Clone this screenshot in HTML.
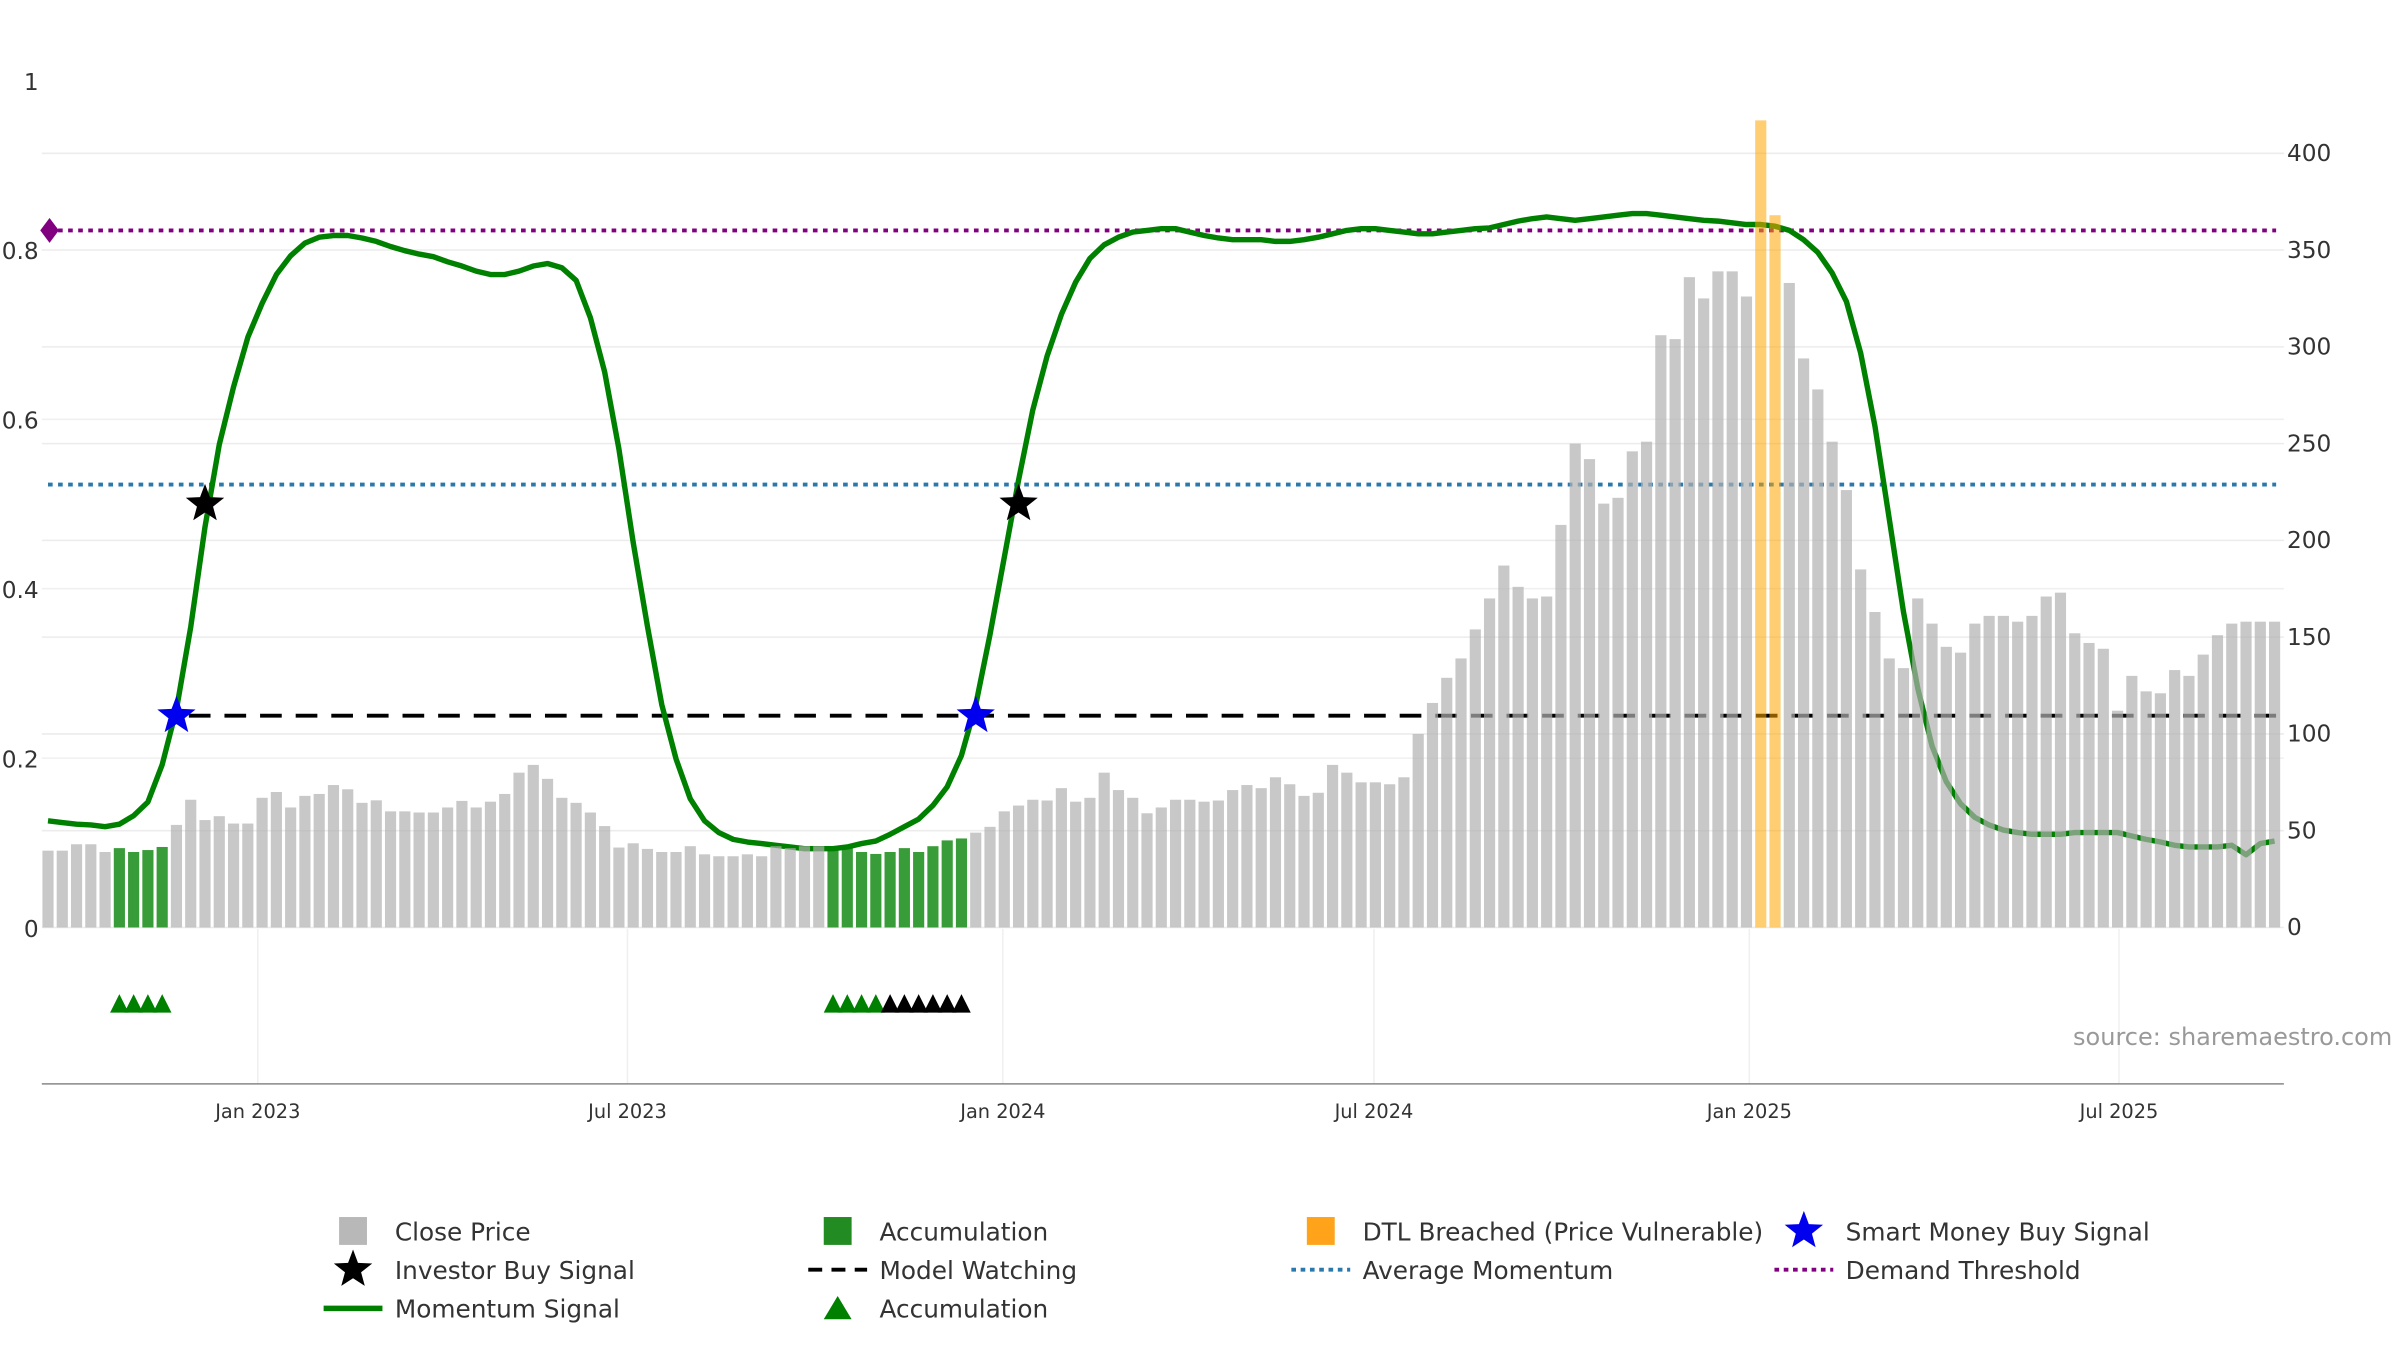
<!DOCTYPE html>
<html><head><meta charset="utf-8"><style>
html,body{margin:0;padding:0;background:#fff;}
svg{display:block;font-family:"DejaVu Sans","Liberation Sans",sans-serif;}
</style></head><body>
<svg id="chart" width="2400" height="1350" viewBox="0 0 1550 871.875" preserveAspectRatio="none" xmlns="http://www.w3.org/2000/svg">
<g id="grid"></g>
<g id="lines"></g>
<g id="bars"></g>
<g id="marks"></g>
<g id="axes"></g>
<text x="1545" y="675" text-anchor="end" font-size="15.5" fill="#999">source: sharemaestro.com</text>
<g id="legend"></g>
</svg>
<script>
const prices = [39.7,39.7,43,43,39,41,39,40,41.6,53,66,55.5,57.5,53.7,53.7,67,70,62,68,69,73.6,71.4,64.4,65.7,60,60,59.4,59.4,62,65.4,62,65,69,80,84,76.8,67,64.4,59.4,52.4,41.3,43.5,40.6,39,39,42,37.8,36.8,36.8,37.8,36.8,42,41,42,42,
41.6,41,39,38,39,41,39,42,45,46,
49,52,60,63,66,65.6,72,65,67,80,71,67,59,62,66,66,65,65.6,71,73.6,72,77.6,74,68,69.6,84,80,75,75,74,77.6,
100,116,129,139,154,170,187,176,170,171,208,250,242,219,222,246,251,306,304,336,325,339,339,326,
417,368,
333,294,278,251,226,185,163,139,134,170,157,145,142,157,161,161,158,161,171,173,152,147,144,112,130,122,121,133,130,141,151,157,158,158,158];
const momentum = [0.126,0.124,0.122,0.121,0.119,0.122,0.132,0.148,0.192,0.258,0.355,0.473,0.570,0.638,0.697,0.737,0.771,0.793,0.808,0.815,0.817,0.817,0.814,0.810,0.804,0.799,0.795,0.792,0.786,0.781,0.775,0.771,0.771,0.775,0.781,0.784,0.779,0.764,0.720,0.656,0.565,0.455,0.355,0.263,0.199,0.152,0.126,0.112,0.104,0.101,0.099,0.097,0.095,0.093,
0.093,0.093,0.095,0.099,0.102,0.110,0.119,0.128,0.144,0.166,0.203,0.263,0.346,0.437,0.528,0.611,0.675,0.724,0.762,0.790,0.806,0.815,0.821,0.823,0.825,0.825,0.821,0.817,0.814,0.812,0.812,
0.812,0.810,0.810,0.812,0.815,0.819,0.823,0.825,0.825,0.823,0.821,0.819,0.819,0.821,0.823,0.825,0.826,0.830,0.834,0.837,0.839,0.837,0.835,0.837,0.839,0.841,0.843,0.843,0.841,0.839,0.837,0.835,0.834,0.832,0.830,0.830,0.828,0.823,0.812,0.797,0.773,0.739,0.678,0.592,0.483,0.373,0.282,0.214,0.172,0.146,0.130,0.121,0.115,0.112,0.110,0.110,0.110,0.112,0.112,0.112,0.112,0.108,0.104,0.101,0.097,0.095,0.095,0.095,0.097,0.086,0.099,0.102];
const accumulationBars = [5,6,7,8,55,56,57,58,59,60,61,62,63,64];
const dtlBars = [120,121];
const greenTriangles = [5,6,7,8,55,56,57,58];
const blackTriangles = [59,60,61,62,63,64];
const smartMoneySignals = [9,65];
const investorSignals = [[11,0.5],[68,0.5]];
const demandThreshold = 0.823;
const avgMomentum = 0.523;
const modelWatching = 0.25;
const leftTicks = [0,0.2,0.4,0.6,0.8,1];
const leftTickLabels = ["0","0.2","0.4","0.6","0.8","1"];
const rightTicks = [0,50,100,150,200,250,300,350,400];
const xTickIdx = [14.7,40.6,66.9,92.9,119.2,145.1];
const xTickLabels = ["Jan 2023","Jul 2023","Jan 2024","Jul 2024","Jan 2025","Jul 2025"];

const NS="http://www.w3.org/2000/svg";
const step=(1469-31)/(prices.length-1);
const X=i=>31+i*step;
const YL=v=>599-v*547;
const YR=p=>599-p*1.25;
function mk(tag,attrs,parent){const e=document.createElementNS(NS,tag);for(const k in attrs)e.setAttribute(k,attrs[k]);parent.appendChild(e);return e;}
const grid=document.getElementById('grid'),lines=document.getElementById('lines'),bars=document.getElementById('bars'),marks=document.getElementById('marks'),axes=document.getElementById('axes'),legend=document.getElementById('legend');

rightTicks.forEach(p=>{const l=mk('line',{x1:27,x2:1475,y1:YR(p),y2:YR(p),stroke:'#ececec','stroke-width':1},grid);


const t=mk('text',{x:1477,y:YR(p)+5,'font-size':15,fill:'#333'},axes);t.textContent=p;

});
leftTicks.forEach((v,k)=>{if(v>0&&v<1){const l=mk('line',{x1:27,x2:1475,y1:YL(v),y2:YL(v),stroke:'#f0f0f0','stroke-width':1},grid);

}
const t=mk('text',{x:25,y:YL(v)+6,'font-size':15,fill:'#333','text-anchor':'end'},axes);t.textContent=leftTickLabels[k];

});
xTickIdx.forEach((ix,k)=>{const x=X(ix);const l=mk('line',{x1:x,x2:x,y1:600,y2:700,stroke:'#f0f0f0','stroke-width':1},grid);


const t=mk('text',{x:x,y:722,'font-size':12.5,fill:'#333','text-anchor':'middle'},axes);t.textContent=xTickLabels[k];

});
const ax=mk('line',{x1:27,x2:1475,y1:700,y2:700,stroke:'#888','stroke-width':1},axes);



// reference lines
let r=mk('line',{x1:31,x2:1470,y1:YL(demandThreshold),y2:YL(demandThreshold),stroke:'#800080','stroke-width':2.5,'stroke-dasharray':'3 3.5'},lines);


r=mk('line',{x1:31,x2:1470,y1:YL(avgMomentum),y2:YL(avgMomentum),stroke:'#2a78ac','stroke-width':2.5,'stroke-dasharray':'3 3.5'},lines);


r=mk('line',{x1:X(smartMoneySignals[0])+8,x2:1470,y1:YL(modelWatching),y2:YL(modelWatching),stroke:'#000','stroke-width':2.5,'stroke-dasharray':'14 9'},lines);


const pts=momentum.map((v,i)=>X(i).toFixed(1)+','+YL(v).toFixed(1)).join(' ');
r=mk('polyline',{points:pts,fill:'none',stroke:'#008000','stroke-width':3.5,'stroke-linejoin':'round'},lines);



// bars
prices.forEach((p,i)=>{let fill='#b0b0b0',op=0.7,name='close-price-bar';
if(accumulationBars.includes(i)){fill='#008000';op=0.78;name='accumulation-bar';}
if(dtlBars.includes(i)){fill='#ffa500';op=0.55;name='dtl-breached-bar';}
const b=mk('rect',{x:X(i)-3.6,y:YR(p),width:7.2,height:599-YR(p),fill:fill,'fill-opacity':op},bars);

});

function star(cx,cy,R,fill,parent){const p=[];for(let k=0;k<10;k++){const a=-Math.PI/2+k*Math.PI/5;const rr=k%2?R*0.42:R;p.push((cx+rr*Math.cos(a)).toFixed(1)+','+(cy+rr*Math.sin(a)).toFixed(1));}return mk('polygon',{points:p.join(' '),fill:fill},parent);}
smartMoneySignals.forEach(i=>{const s=star(X(i),YL(modelWatching),13,'#0000ee',marks);

});
investorSignals.forEach(([i,v])=>{const s=star(X(i),YL(v),13,'#000',marks);

});
function tri(cx,cy,fill){return mk('polygon',{points:`${cx-6},${cy+6} ${cx},${cy-6} ${cx+6},${cy+6}`,fill:fill},marks);}
greenTriangles.forEach(i=>{const t=tri(X(i),648,'#008000');

});
blackTriangles.forEach(i=>{const t=tri(X(i),648,'#000');

});
const dm=mk('polygon',{points:`${32-6},${YL(demandThreshold)} 32,${YL(demandThreshold)-8} ${32+6},${YL(demandThreshold)} 32,${YL(demandThreshold)+8}`,fill:'#800080'},marks);



// legend
const items=[
[228,795,'sq','#b8b8b8','Close Price'],[228,820,'star','#000','Investor Buy Signal'],[228,845,'line','#008000','Momentum Signal'],
[541,795,'sq','#228b22','Accumulation'],[541,820,'dash','#000','Model Watching'],[541,845,'tri','#008000','Accumulation'],
[853,795,'sq','#ffa31a','DTL Breached (Price Vulnerable)'],[853,820,'dot','#2a78ac','Average Momentum'],
[1165,795,'star','#0000ee','Smart Money Buy Signal'],[1165,820,'dot','#800080','Demand Threshold']];
items.forEach(([x,y,kind,c,label])=>{const g=mk('g',{},legend);


if(kind==='sq')mk('rect',{x:x-9,y:y-9,width:18,height:18,fill:c},g);
else if(kind==='star')star(x,y,13,c,g);
else if(kind==='line')mk('line',{x1:x-19,x2:x+19,y1:y,y2:y,stroke:c,'stroke-width':3.5},g);
else if(kind==='dash')mk('line',{x1:x-19,x2:x+19,y1:y,y2:y,stroke:c,'stroke-width':2.5,'stroke-dasharray':'9 6'},g);
else if(kind==='dot')mk('line',{x1:x-19,x2:x+19,y1:y,y2:y,stroke:c,'stroke-width':2.5,'stroke-dasharray':'3 3'},g);
else if(kind==='tri')mk('polygon',{points:`${x-9},${y+7} ${x},${y-8} ${x+9},${y+7}`,fill:c},g);
const t=mk('text',{x:x+27,y:y+6,'font-size':16,fill:'#333'},g);t.textContent=label;});
</script>
</body></html>
